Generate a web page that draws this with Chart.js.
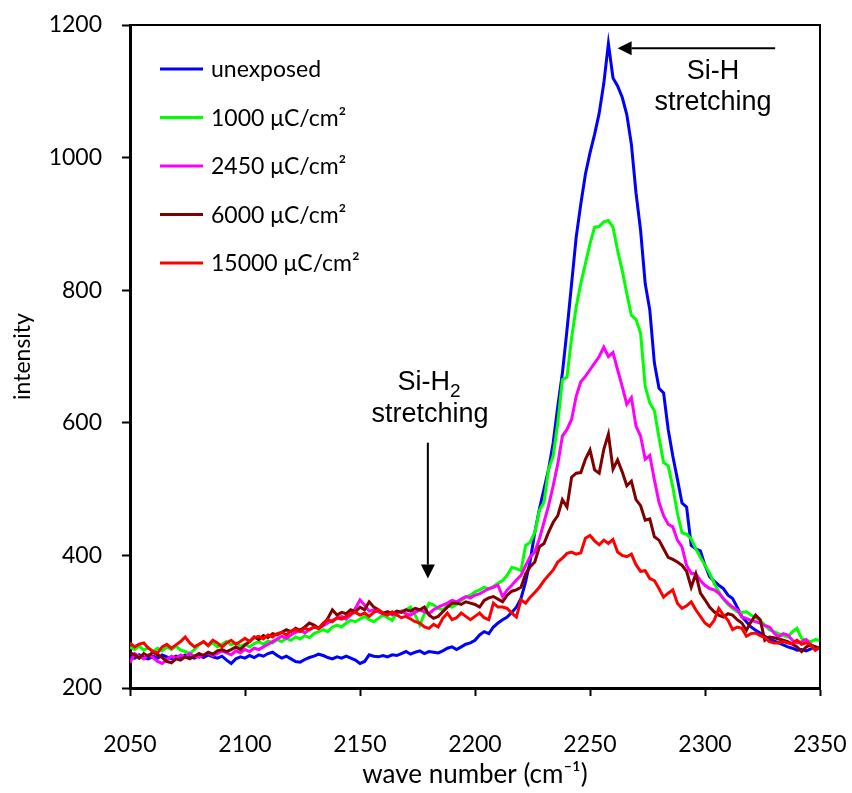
<!DOCTYPE html>
<html>
<head>
<meta charset="utf-8">
<script src="https://cdn.jsdelivr.net/npm/chart.js@4.4.1/dist/chart.umd.min.js"></script>
<style>
  html, body { margin: 0; padding: 0; background: #fff; }
</style>
</head>
<body>
<canvas id="chart" width="852" height="793"></canvas>
<script>
// wave numbers (cm-1), 2 cm-1 steps
const waveNumber = [
  2050,2052,2054,2056,2058,2060,2062,2064,2066,2068,
  2070,2072,2074,2076,2078,2080,2082,2084,2086,2088,
  2090,2092,2094,2096,2098,2100,2102,2104,2106,2108,
  2110,2112,2114,2116,2118,2120,2122,2124,2126,2128,
  2130,2132,2134,2136,2138,2140,2142,2144,2146,2148,
  2150,2152,2154,2156,2158,2160,2162,2164,2166,2168,
  2170,2172,2174,2176,2178,2180,2182,2184,2186,2188,
  2190,2192,2194,2196,2198,2200,2202,2204,2206,2208,
  2210,2212,2214,2216,2218,2220,2222,2224,2226,2228,
  2230,2232,2234,2236,2238,2240,2242,2244,2246,2248,
  2250,2252,2254,2256,2258,2260,2262,2264,2266,2268,
  2270,2272,2274,2276,2278,2280,2282,2284,2286,2288,
  2290,2292,2294,2296,2298,2300,2302,2304,2306,2308,
  2310,2312,2314,2316,2318,2320,2322,2324,2326,2328,
  2330,2332,2334,2336,2338,2340,2342,2344,2346,2348,
  2350
];

const unexposed = [
  248,245,250,246,244,248,245,250,247,244,
  248,246,250,247,245,249,246,250,247,245,
  248,242,237,244,247,245,249,246,250,248,
  252,254,249,245,248,244,240,239,243,246,
  248,251,249,246,244,247,245,248,245,242,
  237,240,250,248,247,249,247,250,249,252,
  255,251,254,256,252,255,254,253,256,260,
  262,258,262,266,268,272,280,285,282,292,
  298,303,307,314,322,335,360,392,435,470,
  500,530,570,625,675,740,810,880,930,975,
  1007,1035,1067,1112,1172,1120,1108,1091,1065,1020,
  947,890,810,770,690,652,645,590,550,515,
  479,473,415,410,407,385,368,361,355,350,
  340,335,322,308,300,292,287,283,278,274,
  271,268,265,262,260,257,258,256,259,262,
  260
];

const dose1000 = [
  262,258,263,257,261,255,260,256,262,258,
  263,257,255,252,258,265,270,264,268,262,
  266,270,265,268,263,266,262,267,270,266,
  271,268,273,270,275,272,277,274,279,276,
  282,285,288,285,292,295,292,298,302,300,
  304,308,303,300,305,310,306,302,313,316,
  318,322,310,295,312,328,325,320,318,324,
  322,326,332,337,340,345,348,352,349,353,
  358,362,370,382,380,377,415,420,435,468,
  480,530,550,600,665,669,728,775,810,840,
  870,895,896,903,905,895,860,830,795,762,
  756,735,655,630,618,578,540,535,503,464,
  434,432,425,410,397,385,373,358,345,334,
  326,320,315,314,315,310,306,302,295,288,
  285,282,279,277,285,290,275,272,270,273,
  272
];

const dose2450 = [
  238,252,248,244,250,246,240,237,243,248,
  245,250,247,252,248,246,250,253,249,252,
  256,253,250,256,253,258,255,260,258,262,
  266,270,274,278,275,280,284,287,283,288,
  292,290,294,298,302,305,308,304,310,320,
  333,325,316,318,315,312,315,310,313,316,
  312,310,314,318,315,312,318,322,325,328,
  332,330,334,338,336,340,342,346,350,352,
  355,338,348,355,363,370,385,398,405,425,
  450,475,505,538,580,590,605,640,662,670,
  680,690,700,714,700,706,680,655,628,638,
  595,580,545,551,514,480,460,447,443,423,
  413,385,373,372,362,355,350,348,343,335,
  328,322,318,307,305,302,300,298,294,292,
  283,277,282,280,272,268,270,273,265,257,
  262
];

const dose6000 = [
  253,250,245,252,248,254,250,246,240,238,
  244,242,247,244,248,252,249,254,251,256,
  258,255,258,262,258,265,270,277,273,279,
  276,282,280,284,288,285,290,287,292,298,
  295,290,296,305,318,310,314,312,318,315,
  322,318,330,322,318,313,315,312,316,314,
  318,316,320,318,322,310,305,308,315,322,
  328,328,326,330,328,326,322,332,336,338,
  334,330,340,346,348,352,372,383,390,413,
  418,435,450,460,484,473,518,524,525,545,
  559,529,524,560,583,530,544,526,505,512,
  484,475,453,455,428,423,410,397,394,390,
  385,376,352,372,343,333,322,315,310,307,
  312,310,303,298,287,300,310,303,272,277,
  276,274,272,270,266,262,255,262,265,262,
  260
];

const dose15000 = [
  268,262,266,268,260,255,253,262,266,260,
  265,270,277,268,262,266,270,264,272,268,
  262,268,272,266,270,275,270,276,278,274,
  280,277,282,284,280,286,288,285,290,288,
  292,290,298,303,300,306,304,308,312,314,
  310,313,308,314,318,312,310,315,310,306,
  308,304,300,298,292,290,296,292,305,313,
  303,306,313,308,303,308,313,306,303,328,
  322,322,320,313,307,333,328,337,344,352,
  362,370,378,390,396,403,405,402,404,426,
  430,422,416,423,418,424,405,400,398,402,
  386,376,377,365,362,350,337,343,348,328,
  320,324,330,318,308,298,293,302,320,310,
  302,288,292,290,278,282,283,279,276,270,
  268,268,270,268,267,272,266,268,265,257,
  262
];

const seriesNames = ['unexposed', '1000 μC/cm²', '2450 μC/cm²', '6000 μC/cm²', '15000 μC/cm²'];
const seriesColors = ['#0000ff', '#00ff00', '#ff00ff', '#800000', '#ff0000'];
const seriesValues = [unexposed, dose1000, dose2450, dose6000, dose15000];

const tickFont = '"Lato", "Open Sans", sans-serif';
const noteFont = '"Liberation Sans", Arial, sans-serif';

function arrow(ctx, x1, y1, x2, y2) {
  const ang = Math.atan2(y2 - y1, x2 - x1);
  const len = 14, half = 7;
  ctx.beginPath();
  ctx.moveTo(x1, y1);
  ctx.lineTo(x2 - len * Math.cos(ang), y2 - len * Math.sin(ang));
  ctx.stroke();
  ctx.beginPath();
  ctx.moveTo(x2, y2);
  ctx.lineTo(x2 - len * Math.cos(ang) + half * Math.sin(ang), y2 - len * Math.sin(ang) - half * Math.cos(ang));
  ctx.lineTo(x2 - len * Math.cos(ang) - half * Math.sin(ang), y2 - len * Math.sin(ang) + half * Math.cos(ang));
  ctx.closePath();
  ctx.fill();
}

const extras = {
  id: 'extras',
  afterDraw(chart) {
    const {ctx, chartArea: a} = chart;
    const xs = chart.scales.x, ys = chart.scales.y;
    ctx.save();

    // top and right frame
    ctx.strokeStyle = '#000';
    ctx.lineWidth = 2;
    ctx.beginPath();
    ctx.moveTo(a.left, a.top);
    ctx.lineTo(a.right, a.top);
    ctx.lineTo(a.right, a.bottom);
    ctx.stroke();

    // legend inside the plot
    ctx.font = '23px ' + tickFont;
    ctx.textBaseline = 'middle';
    ctx.textAlign = 'left';
    chart.data.datasets.forEach((ds, i) => {
      const y = a.top + 44 + i * 48.5;
      ctx.strokeStyle = ds.borderColor;
      ctx.lineWidth = 3;
      ctx.beginPath();
      ctx.moveTo(a.left + 30, y);
      ctx.lineTo(a.left + 73, y);
      ctx.stroke();
      ctx.fillStyle = '#000';
      ctx.fillText(ds.label, a.left + 81, y + 1);
    });

    // annotations
    ctx.fillStyle = '#000';
    ctx.strokeStyle = '#000';
    ctx.lineWidth = 2;
    ctx.textBaseline = 'alphabetic';
    ctx.textAlign = 'center';
    ctx.font = '27px ' + noteFont;

    // Si-H
    arrow(ctx, xs.getPixelForValue(2330.5), ys.getPixelForValue(1165),
               xs.getPixelForValue(2262), ys.getPixelForValue(1165));
    ctx.fillText('Si-H', xs.getPixelForValue(2303.5), 79);
    ctx.fillText('stretching', xs.getPixelForValue(2303.5), 110);

    // Si-H2
    const cx = xs.getPixelForValue(2180);
    ctx.textAlign = 'left';
    const w1 = ctx.measureText('Si-H').width;
    ctx.font = '19px ' + noteFont;
    const w2 = ctx.measureText('2').width;
    const x0 = cx - (w1 + w2) / 2;
    ctx.font = '27px ' + noteFont;
    ctx.fillText('Si-H', x0, 390);
    ctx.font = '19px ' + noteFont;
    ctx.fillText('2', x0 + w1, 397);
    ctx.font = '27px ' + noteFont;
    ctx.textAlign = 'center';
    ctx.fillText('stretching', cx + 1, 422);
    arrow(ctx, xs.getPixelForValue(2179.5), ys.getPixelForValue(570),
               xs.getPixelForValue(2179.5), ys.getPixelForValue(365));

    ctx.restore();
  }
};

const ctx = document.getElementById('chart').getContext('2d');
new Chart(ctx, {
  type: 'line',
  data: {
    datasets: seriesValues.map((vals, i) => ({
      label: seriesNames[i],
      data: waveNumber.map((x, j) => ({x: x, y: vals[j]})),
      borderColor: seriesColors[i],
      backgroundColor: seriesColors[i],
      borderWidth: 3,
      pointRadius: 0,
      tension: 0,
      order: seriesValues.length - i
    }))
  },
  options: {
    responsive: false,
    animation: false,
    layout: {padding: {left: 0, top: 25, right: 32, bottom: 0}},
    plugins: {
      legend: {display: false},
      tooltip: {enabled: false}
    },
    scales: {
      x: {
        type: 'linear',
        min: 2050,
        max: 2350,
        ticks: {stepSize: 50, color: '#000', font: {family: tickFont, size: 23}, padding: 35, maxRotation: 0,
                callback: (v) => String(v)},
        grid: {display: true, drawOnChartArea: false, drawTicks: true, tickLength: 8, tickWidth: 2, tickColor: '#000'},
        border: {display: true, color: '#000', width: 3},
        title: {display: true, text: 'wave number (cm⁻¹)', color: '#000', font: {family: tickFont, size: 26}, padding: {top: 0, bottom: 3}},
        afterFit: (scale) => {
          scale.height = 105;
          scale.paddingLeft = 0;
          scale.paddingRight = 0;
        }
      },
      y: {
        min: 200,
        max: 1200,
        ticks: {stepSize: 200, color: '#000', font: {family: tickFont, size: 23}, padding: 20,
                callback: (v) => String(v)},
        grid: {display: true, drawOnChartArea: false, drawTicks: true, tickLength: 8, tickWidth: 2, tickColor: '#000'},
        border: {display: true, color: '#000', width: 3},
        title: {display: true, text: 'intensity', color: '#000', font: {family: tickFont, size: 23}, padding: {top: 9, bottom: 0}},
        afterFit: (scale) => {
          scale.width = 130;
          scale.paddingTop = 0;
          scale.paddingBottom = 0;
        }
      }
    }
  },
  plugins: [extras]
});
</script>
</body>
</html>
